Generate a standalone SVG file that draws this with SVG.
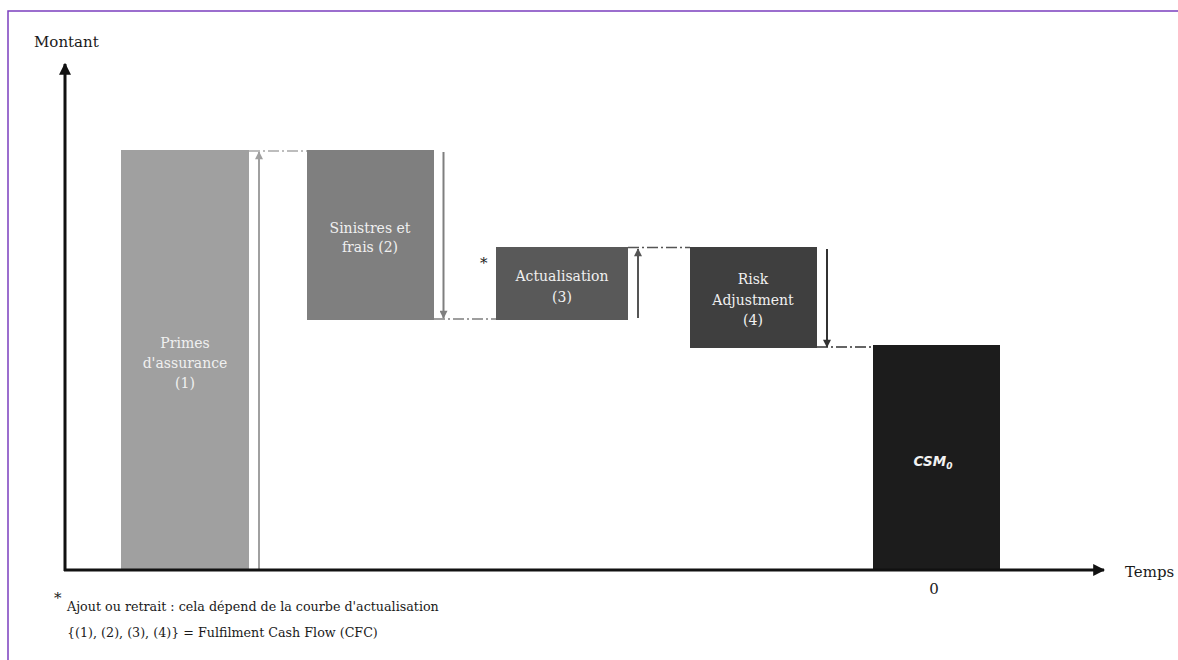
<svg xmlns="http://www.w3.org/2000/svg" width="1178" height="660" viewBox="0 0 1178 660">
  <style>
    .lbl { font-size: 14px; fill: #f0f0f0; text-anchor: middle; }
    .ax { font-size: 15px; fill: #1a1a1a; }
    .note { font-size: 12.7px; fill: #1a1a1a; }
    .guide { stroke-width: 1.3; fill: none; stroke-dasharray: 11 3 2 3; }
  </style>
  <defs>
    <marker id="axHead" viewBox="0 0 10 10" refX="9" refY="5" markerWidth="4" markerHeight="4" orient="auto" markerUnits="strokeWidth">
      <path d="M0,0 L10,5 L0,10 z" fill="#111"/>
    </marker>
    <marker id="hA" viewBox="0 0 10 10" refX="9" refY="5" markerWidth="5" markerHeight="4" orient="auto" markerUnits="strokeWidth">
      <path d="M0,0 L10,5 L0,10 z" fill="#a0a0a0"/>
    </marker>
    <marker id="hB" viewBox="0 0 10 10" refX="9" refY="5" markerWidth="5" markerHeight="4" orient="auto" markerUnits="strokeWidth">
      <path d="M0,0 L10,5 L0,10 z" fill="#7f7f7f"/>
    </marker>
    <marker id="hC" viewBox="0 0 10 10" refX="9" refY="5" markerWidth="5" markerHeight="4" orient="auto" markerUnits="strokeWidth">
      <path d="M0,0 L10,5 L0,10 z" fill="#555"/>
    </marker>
    <marker id="hD" viewBox="0 0 10 10" refX="9" refY="5" markerWidth="5" markerHeight="4" orient="auto" markerUnits="strokeWidth">
      <path d="M0,0 L10,5 L0,10 z" fill="#333"/>
    </marker>
  </defs>

  <rect x="0" y="0" width="1178" height="660" fill="#ffffff"/>
  <!-- frame (continues past the right and bottom edges) -->
  <rect x="8" y="11" width="1250" height="700" fill="none" stroke="#7b3fbf" stroke-width="1.5"/>

  <g font-family="'DejaVu Serif', 'Liberation Serif', serif">
  <!-- bars -->
  <g id="primes">
    <rect x="121" y="150" width="128" height="420" fill="#a0a0a0"/>
    <text class="lbl" x="185" y="348">Primes</text>
    <text class="lbl" x="185" y="368">d'assurance</text>
    <text class="lbl" x="185" y="388">(1)</text>
  </g>
  <g id="sinistres">
    <rect x="307" y="150" width="127" height="170" fill="#7f7f7f"/>
    <text class="lbl" x="370" y="233">Sinistres et</text>
    <text class="lbl" x="370" y="252">frais (2)</text>
  </g>
  <g id="actualisation">
    <rect x="496" y="247" width="132" height="73" fill="#595959"/>
    <text class="lbl" x="562" y="281">Actualisation</text>
    <text class="lbl" x="562" y="302">(3)</text>
  </g>
  <g id="risk">
    <rect x="690" y="247" width="127" height="101" fill="#3f3f3f"/>
    <text class="lbl" x="753" y="284">Risk</text>
    <text class="lbl" x="753" y="305">Adjustment</text>
    <text class="lbl" x="753" y="325">(4)</text>
  </g>
  <g id="csm">
    <rect x="873" y="345" width="127" height="225" fill="#1c1c1c"/>
    <text x="933" y="466" font-family="'DejaVu Sans', 'Liberation Sans', sans-serif" font-size="13.5" font-style="italic" font-weight="bold" fill="#f2f2f2" text-anchor="middle">CSM<tspan font-size="9" dy="3">0</tspan></text>
  </g>

  <!-- connectors -->
  <g id="connectors">
    <line class="guide" x1="249" y1="151" x2="307" y2="151" stroke="#a8a8a8"/>
    <line class="guide" x1="434" y1="319" x2="496" y2="319" stroke="#7f7f7f"/>
    <line class="guide" x1="628" y1="247.5" x2="690" y2="247.5" stroke="#555"/>
    <line class="guide" x1="817" y1="347" x2="873" y2="347" stroke="#333"/>

    <line x1="259" y1="571" x2="259" y2="152" stroke="#a0a0a0" stroke-width="2" marker-end="url(#hA)"/>
    <line x1="443.5" y1="152" x2="443.5" y2="318" stroke="#7f7f7f" stroke-width="2" marker-end="url(#hB)"/>
    <line x1="638" y1="318" x2="638" y2="249" stroke="#555" stroke-width="2" marker-end="url(#hC)"/>
    <line x1="827" y1="249" x2="827" y2="347" stroke="#333" stroke-width="2" marker-end="url(#hD)"/>

    <!-- axes -->
    <line x1="65" y1="571" x2="65" y2="64" stroke="#111" stroke-width="3" marker-end="url(#axHead)"/>
    <line x1="64" y1="570" x2="1104" y2="570" stroke="#111" stroke-width="3" marker-end="url(#axHead)"/>
  </g>

  <!-- axis labels -->
  <text class="ax" x="34" y="47">Montant</text>
  <text class="ax" x="1125" y="577" font-size="14">Temps</text>
  <text class="ax" x="934" y="594" font-size="14" text-anchor="middle">0</text>
  <text class="ax" x="480" y="268" font-size="15">*</text>

  <!-- footnotes -->
  <text class="ax" x="54" y="603" font-size="20">*</text>
  <text class="note" x="67" y="611">Ajout ou retrait : cela dépend de la courbe d'actualisation</text>
  <text class="note" x="67" y="637">{(1), (2), (3), (4)} = Fulfilment Cash Flow (CFC)</text>
  </g>
</svg>
